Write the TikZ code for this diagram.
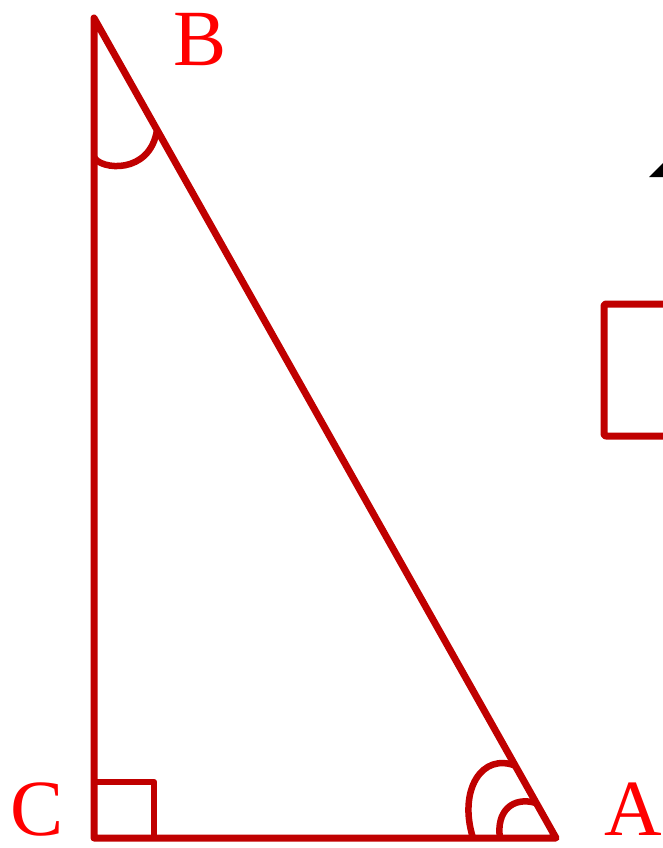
\documentclass[tikz,border=0pt]{standalone}
\usepackage{fontspec}
\setmainfont{Liberation Serif}
\usepackage{tikz}
\definecolor{sidered}{HTML}{C00000}
\definecolor{labelred}{HTML}{FF0000}

\begin{document}
\begin{tikzpicture}[x=1bp, y=-1bp,
    side/.style={draw=sidered, line width=7bp, line join=round, line cap=round},
    anglearc/.style={draw=sidered, line width=6.5bp},
    vertex/.style={text=labelred, inner sep=0pt, font=\fontsize{80}{80}\selectfont}
]
\useasboundingbox (0,0) rectangle (663,848);
\clip (0,0) rectangle (663,848);

% Corners of the triangle
\coordinate (C) at (94,838);
\coordinate (B) at (94,18);
\coordinate (A) at (556,838);

% Sides
\draw[side] (C) -- (B) -- (A) -- cycle;

% Vertex labels
\node[vertex] (labB) at (200,40) {B};
\node[vertex] (labC) at (37,809) {C};
\node[vertex] (labA) at (633,809) {A};

% Right angle at C
\draw[anglearc, line join=round] (94,782) -- (154,782) -- (154,838);

% Angle at B
\draw[anglearc] (94,157) .. controls (100,170) and (150,175) .. (157,130);

% Double angle at A
\draw[anglearc] (473,838) .. controls (458,790) and (482,752) .. (516,766);
\draw[anglearc] (500,838) .. controls (496,812) and (512,796) .. (536,803);

% Cut-off shapes at the right edge
\fill[black] (649,177) -- (670,156) -- (670,177) -- cycle;
\draw[side, line cap=butt, rounded corners=2bp] (690,304) -- (604,304) -- (604,436) -- (690,436);

\end{tikzpicture}
\end{document}
